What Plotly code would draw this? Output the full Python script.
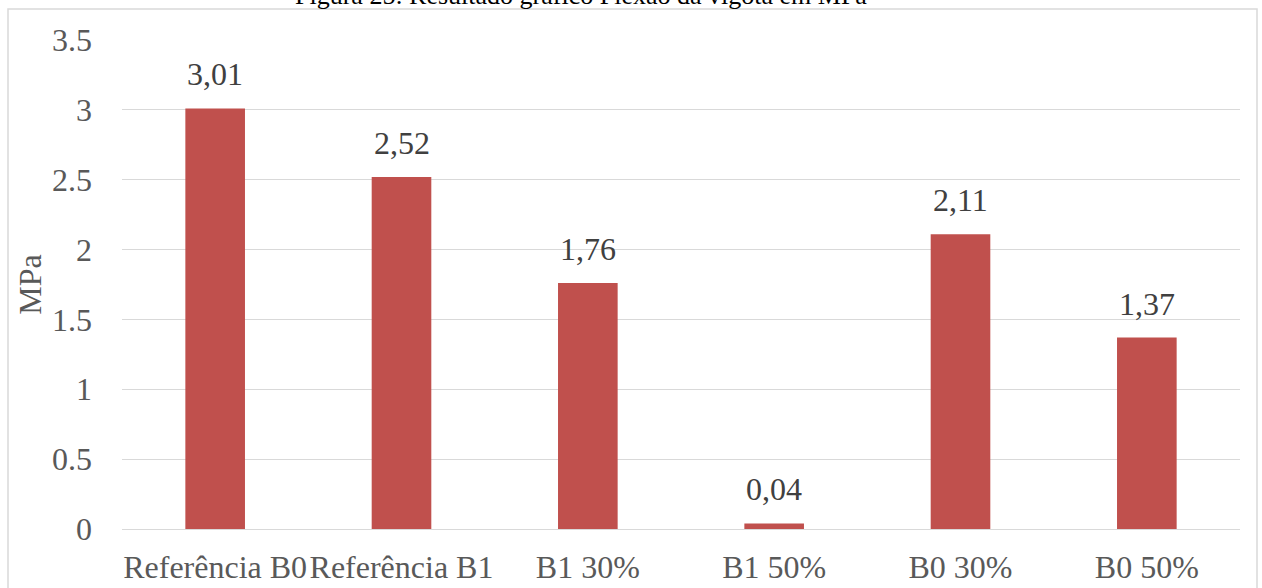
import plotly.graph_objects as go

categories = ["Referência B0", "Referência B1", "B1 30%", "B1 50%", "B0 30%", "B0 50%"]
values = [3.01, 2.52, 1.76, 0.04, 2.11, 1.37]
value_labels = ["3,01", "2,52", "1,76", "0,04", "2,11", "1,37"]
y_ticks = [0, 0.5, 1, 1.5, 2, 2.5, 3, 3.5]
y_tick_text = ["0", "0.5", "1", "1.5", "2", "2.5", "3", "3.5"]

FONT = "Liberation Serif, Times New Roman, serif"
BAR_COLOR = "#c0504d"
GRID = "#d9d9d9"
TEXT_SIZE = 32

fig = go.Figure(
    go.Bar(
        x=categories,
        y=values,
        marker=dict(color=BAR_COLOR, line=dict(width=0)),
        hoverinfo="x+y",
    )
)

# value labels above each bar
annotations = [
    dict(
        x=c,
        y=v,
        xref="x",
        yref="y",
        text=t,
        showarrow=False,
        yanchor="bottom",
        yshift=14,
        font=dict(family=FONT, size=TEXT_SIZE, color="#404040"),
    )
    for c, v, t in zip(categories, values, value_labels)
]

annotations.append(
    dict(
        text="Figura 25: Resultado gráfico Flexão da vigota em MPa",
        xref="paper",
        yref="paper",
        x=(581 - 122) / 1118,
        y=(529 - 12) / 489,
        xanchor="center",
        yanchor="bottom",
        showarrow=False,
        font=dict(family=FONT, size=26, color="#000000"),
    )
)

fig.update_layout(
    width=1262,
    height=588,
    margin=dict(l=122, r=22, t=40, b=59),
    paper_bgcolor="white",
    plot_bgcolor="white",
    bargap=0.68,
    showlegend=False,
    font=dict(family=FONT, size=TEXT_SIZE, color="#595959"),
    xaxis=dict(
        automargin=False,
        showgrid=False,
        showline=True,
        linecolor=GRID,
        linewidth=1,
        ticks="",
        tickfont=dict(family=FONT, size=TEXT_SIZE, color="#595959"),
        ticklabelstandoff=10,
    ),
    yaxis=dict(
        automargin=False,
        range=[0, 3.5],
        tickvals=y_ticks,
        ticktext=y_tick_text,
        showgrid=True,
        gridcolor=GRID,
        gridwidth=1,
        zeroline=False,
        showline=False,
        ticks="",
        tickfont=dict(family=FONT, size=TEXT_SIZE, color="#595959"),
        ticklabelstandoff=29,
        title=dict(text="MPa", font=dict(family=FONT, size=TEXT_SIZE, color="#595959"), standoff=0),
    ),
    shapes=[
        dict(
            type="rect",
            xref="paper",
            yref="paper",
            x0=(8 - 122) / 1118,
            x1=(1257 - 122) / 1118,
            y0=-0.3,
            y1=(529 - 9) / 489,
            line=dict(color=GRID, width=1.5),
            fillcolor="rgba(0,0,0,0)",
            layer="below",
        )
    ],
    annotations=annotations,
)

fig.write_html("out.html")
